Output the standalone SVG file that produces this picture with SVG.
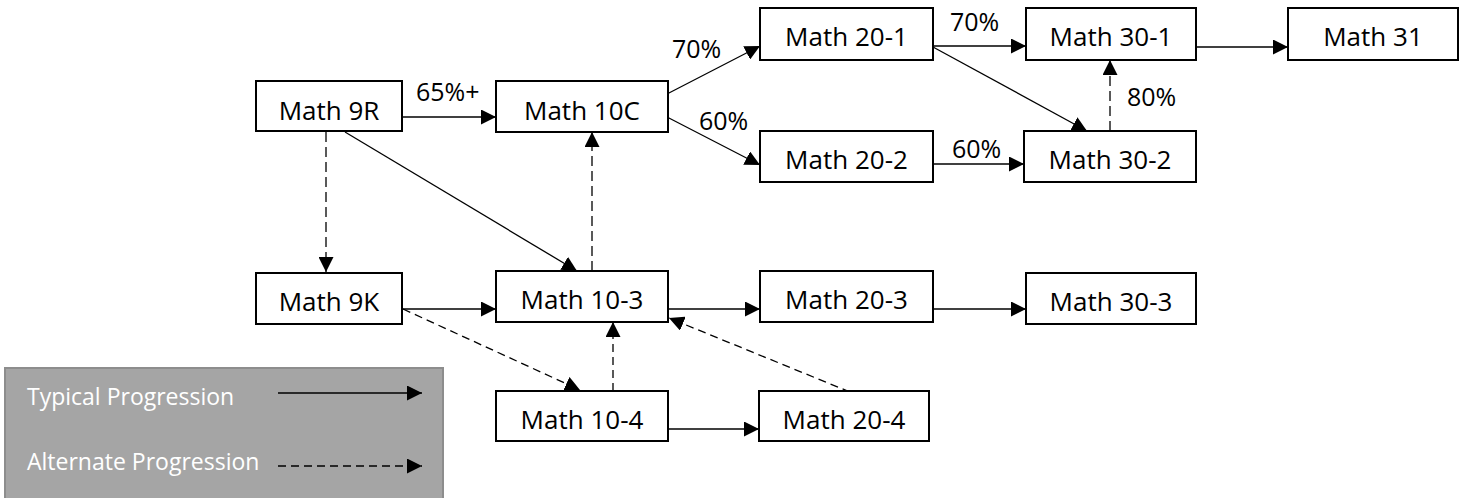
<svg xmlns="http://www.w3.org/2000/svg" width="1464" height="498" viewBox="0 0 1464 498">
<style>
.box{fill:#fff;stroke:#000;stroke-width:2}
.t{font-family:"Open Sans","Liberation Sans",sans-serif;font-size:26px;fill:#000;text-anchor:middle}
.lbl{font-family:"Open Sans","Liberation Sans",sans-serif;font-size:25px;fill:#000}
.leg{font-family:"Open Sans","Liberation Sans",sans-serif;font-size:23px;fill:#fff}
.s{fill:none;stroke:#000;stroke-width:1.3;marker-end:url(#ah)}
.d{fill:none;stroke:#000;stroke-width:1.3;stroke-dasharray:8 5;marker-end:url(#ah)}
.dg{fill:none;stroke:#595959;stroke-width:2;stroke-dasharray:10 5;marker-end:url(#ah)}
</style>
<defs>
<marker id="ah" markerUnits="userSpaceOnUse" markerWidth="15" markerHeight="15" refX="15" refY="7.5" orient="auto">
<path d="M0,0 L15,7.5 L0,15 z" fill="#000"/>
</marker>
</defs>
<rect x="0" y="0" width="1464" height="498" fill="#fff"/>
<g id="legend">
<rect x="5" y="368" width="438" height="140" fill="#a5a5a5" stroke="#8d8d8d" stroke-width="2"/>
<text class="leg" x="27" y="405">Typical Progression</text>
<text class="leg" x="27" y="470">Alternate Progression</text>
<line x1="278" y1="393" x2="422" y2="393" class="s"/>
<line x1="278" y1="466" x2="422" y2="466" class="d"/>
</g>
<g id="connectors">
<line x1="402" y1="117" x2="496" y2="117" class="s"/>
<line x1="326" y1="132" x2="326" y2="272" class="dg"/>
<line x1="345" y1="132" x2="577" y2="271" class="s"/>
<line x1="592" y1="271" x2="592" y2="132" class="dg"/>
<line x1="667" y1="94" x2="760" y2="46" class="s"/>
<line x1="667" y1="117" x2="760" y2="165" class="s"/>
<line x1="933" y1="46" x2="1026" y2="46" class="s"/>
<line x1="933" y1="47" x2="1087" y2="131" class="s"/>
<line x1="1110" y1="131" x2="1110" y2="60" class="dg"/>
<line x1="931" y1="164" x2="1024" y2="164" class="s"/>
<line x1="1196" y1="47" x2="1288" y2="47" class="s"/>
<line x1="402" y1="309" x2="496" y2="309" class="s"/>
<line x1="403" y1="309" x2="580" y2="390" class="d"/>
<line x1="668" y1="309" x2="760" y2="309" class="s"/>
<line x1="933" y1="309" x2="1026" y2="309" class="s"/>
<line x1="613" y1="391" x2="613" y2="322" class="d"/>
<line x1="850" y1="392" x2="669" y2="318" class="d"/>
<line x1="668" y1="429" x2="759" y2="429" class="s"/>
</g>
<g id="labels">
<text class="lbl" x="416" y="101">65%+</text>
<text class="lbl" x="672" y="58">70%</text>
<text class="lbl" x="699" y="130">60%</text>
<text class="lbl" x="950" y="31">70%</text>
<text class="lbl" x="952" y="158">60%</text>
<text class="lbl" x="1127" y="106">80%</text>
</g>
<g id="n9R"><rect class="box" x="256" y="81" width="146" height="50"/><text class="t" x="329" y="120">Math 9R</text></g>
<g id="n10C"><rect class="box" x="496" y="81" width="172" height="51"/><text class="t" x="582" y="120">Math 10C</text></g>
<g id="n20-1"><rect class="box" x="760" y="8" width="173" height="52"/><text class="t" x="846.5" y="46">Math 20-1</text></g>
<g id="n20-2"><rect class="box" x="760" y="131" width="173" height="51"/><text class="t" x="846.5" y="169">Math 20-2</text></g>
<g id="n30-1"><rect class="box" x="1026" y="8" width="170" height="52"/><text class="t" x="1111" y="46">Math 30-1</text></g>
<g id="n30-2"><rect class="box" x="1024" y="131" width="172" height="51"/><text class="t" x="1110" y="169">Math 30-2</text></g>
<g id="n31"><rect class="box" x="1288" y="8" width="170" height="52"/><text class="t" x="1373" y="46">Math 31</text></g>
<g id="n9K"><rect class="box" x="256" y="273" width="146" height="51"/><text class="t" x="329" y="311">Math 9K</text></g>
<g id="n10-3"><rect class="box" x="496" y="271" width="172" height="51"/><text class="t" x="582" y="309">Math 10-3</text></g>
<g id="n20-3"><rect class="box" x="760" y="271" width="173" height="51"/><text class="t" x="846.5" y="309">Math 20-3</text></g>
<g id="n30-3"><rect class="box" x="1026" y="273" width="170" height="51"/><text class="t" x="1111" y="311">Math 30-3</text></g>
<g id="n10-4"><rect class="box" x="496" y="391" width="172" height="50"/><text class="t" x="582" y="429">Math 10-4</text></g>
<g id="n20-4"><rect class="box" x="759" y="391" width="170" height="50"/><text class="t" x="844" y="429">Math 20-4</text></g>
</svg>
